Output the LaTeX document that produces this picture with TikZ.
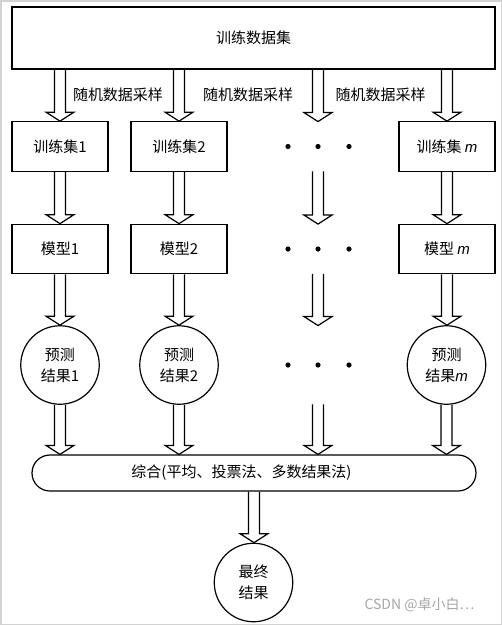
\documentclass[tikz,border=0pt]{standalone}
\usepackage{fontspec}
\setmainfont{Noto Sans CJK SC}
\newfontfamily\latinfont{Liberation Sans}
\usetikzlibrary{calc}
\newcommand{\mi}{{\latinfont\itshape m}}
% hollow block arrow from point #1 straight down to point #2
\newcommand{\hollowarrow}[2]{%
  \draw[blockline] let \p1=#1, \p2=#2 in
    (\x1-5.5pt,\y1) -- (\x1-5.5pt,\y2+9pt) -- (\x1-14pt,\y2+9pt) -- (\x1,\y2)
    -- (\x1+14pt,\y2+9pt) -- (\x1+5.5pt,\y2+9pt) -- (\x1+5.5pt,\y1);}
\begin{document}
\begin{tikzpicture}[x=1pt, y=1pt,
    every node/.style={font=\fontsize{15}{21}\selectfont},
    box/.style={draw, line width=1.2pt, minimum width=96pt, minimum height=49.5pt, inner sep=0pt},
    result/.style={draw, circle, line width=1.2pt, minimum size=78.5pt, inner sep=0pt, align=center},
    blockline/.style={line width=1.2pt, line join=miter},
    dotrow/.style={inner sep=0pt, minimum width=70pt}]
  \useasboundingbox (0,0) rectangle (502,-625);
  \draw[gray!35, line width=1.5pt] (0.75,-0.75) rectangle (501.25,-624.25);

  \node[box, minimum width=483pt, minimum height=62pt] (top) at (253.5,-38) {训练数据集};
  % training sets
  \node[box] (s1) at (60,-146.5) {训练集1};
  \node[box] (s2) at (179,-146.5) {训练集2};
  \node[box] (sm) at (447,-146.5) {训练集 \mi};
  \node[dotrow, minimum height=49.5pt] (dots1) at (318,-146.5) {};
  % models
  \node[box] (m1) at (60,-249) {模型1};
  \node[box] (m2) at (179,-249) {模型2};
  \node[box] (mm) at (447,-249) {模型 \mi};
  \node[dotrow, minimum height=49.5pt] (dots2) at (318,-249) {};
  % predictions
  \node[result] (p1) at (60,-365) {预测\\结果1};
  \node[result] (p2) at (179,-365) {预测\\结果2};
  \node[result] (pm) at (446.5,-365) {预测\\结果\mi};
  \node[dotrow, minimum height=78.5pt] (dots3) at (318,-365) {};

  \node[draw, line width=1.2pt, rounded corners=18pt, minimum width=444pt, minimum height=36pt] (comb) at (254,-473) {};
  \node at (241.5,-473) {综合(平均、投票法、多数结果法)};
  \node[result] (final) at (253.5,-582.5) {最终\\结果};

  \foreach \n in {dots1,dots2,dots3}
    \foreach \dx in {-30,0,31}
      \fill ([xshift=\dx pt]\n) circle (2.6pt);

  \node at (118,-95) {随机数据采样};
  \node at (248,-95) {随机数据采样};
  \node at (380.5,-95) {随机数据采样};

  \foreach \sa/\mo/\pr in {s1/m1/p1, s2/m2/p2, dots1/dots2/dots3, sm/mm/pm} {
    \hollowarrow{(\sa.north |- top.south)}{(\sa.north)}
    \hollowarrow{(\sa.south)}{(\mo.north)}
    \hollowarrow{(\mo.south)}{(\pr.north)}
    \hollowarrow{(\pr.south)}{(\pr.south |- comb.north)}
  }
  \hollowarrow{(comb.south)}{(final.north)}

  \node[gray!70, font=\fontsize{14}{16}\selectfont] (mark) at (419.5,-605) {CSDN @卓小白…};
\end{tikzpicture}
\end{document}
